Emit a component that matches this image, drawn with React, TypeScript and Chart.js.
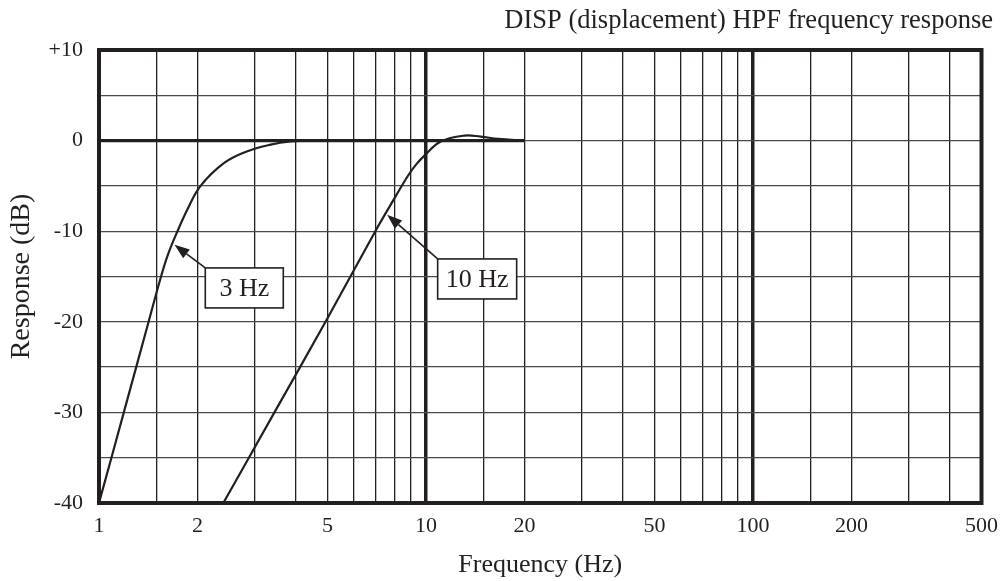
import React, { useEffect, useRef } from "react";
import { Chart, registerables } from "chart.js";

Chart.register(...registerables);

// ---- data ----
const FREQ_3HZ = [1, 1.191, 1.418, 1.548, 1.628, 1.738, 1.87, 2.045, 2.415, 2.843, 3.35, 3.85, 4.5, 8, 20];
const RESP_3HZ = [-40, -30, -20, -15, -12.5, -10, -7.5, -5, -2.47, -1.18, -0.44, -0.1, 0, 0, 0];
const FREQ_10HZ = [2.4, 3.44, 4.93, 7.0, 7.94, 8.82, 9.35, 9.93, 11.1, 13.1, 14.7, 16.6, 20];
const RESP_10HZ = [-40, -30, -20, -10, -6.6, -3.85, -2.6, -1.6, -0.1, 0.55, 0.44, 0.19, 0];
const ZERO_FREQ = [1, 20];
const ZERO_RESP = [0, 0];

const X_GRID = [1, 1.5, 2, 3, 4, 5, 6, 7, 8, 9, 10, 15, 20, 30, 40, 50, 60, 70, 80, 90, 100, 150, 200, 300, 400, 500];
const X_LABELS = [1, 2, 5, 10, 20, 50, 100, 200, 500];
const X_MAJOR = [10, 100];
const Y_LABELS = [-40, -30, -20, -10, 0, 10];

const TITLE = "DISP (displacement) HPF frequency response";
const X_TITLE = "Frequency (Hz)";
const Y_TITLE = "Response (dB)";

const CALLOUT_LABELS = ["3 Hz", "10 Hz"];
const CALLOUT_TIP_X = [1.702, 7.61];
const CALLOUT_TIP_Y = [-11.5, -8.19];
const CALLOUT_BOX_X = [2.782, 14.34];
const CALLOUT_BOX_Y = [-16.26, -15.27];

const INK = "#231f20";
const FONT = '"Liberation Serif", "Times New Roman", serif';
const CALLOUT_BOX_W = [78, 79];
const CALLOUT_BOX_H = 40;

const overlayPlugin = {
  id: "overlay",
  afterDraw(chart: any) {
    const { ctx, chartArea: a, scales } = chart;
    const xs = scales.x;
    const ys = scales.y;
    ctx.save();
    // frame
    ctx.lineWidth = 4;
    ctx.strokeStyle = INK;
    ctx.strokeRect(a.left, a.top, a.right - a.left, a.bottom - a.top);

    // title
    ctx.fillStyle = INK;
    ctx.font = `26.5px ${FONT}`;
    ctx.textAlign = "right";
    ctx.textBaseline = "alphabetic";
    ctx.fillText(TITLE, chart.width - 15, 28);

    // callouts
    ctx.font = `26px ${FONT}`;
    for (let i = 0; i < CALLOUT_LABELS.length; i++) {
      const tx = xs.getPixelForValue(CALLOUT_TIP_X[i]);
      const ty = ys.getPixelForValue(CALLOUT_TIP_Y[i]);
      const bx = xs.getPixelForValue(CALLOUT_BOX_X[i]);
      const by = ys.getPixelForValue(CALLOUT_BOX_Y[i]);
      const w = CALLOUT_BOX_W[i];
      const h = CALLOUT_BOX_H;
      const cx = bx - w / 2;
      const cy = by - h / 2;
      // arrow
      const dx = tx - cx;
      const dy = ty - cy;
      const len = Math.sqrt(dx * dx + dy * dy);
      const ux = dx / len;
      const uy = dy / len;
      const headLen = 15;
      const headHalf = 5.5;
      const baseX = tx - ux * headLen;
      const baseY = ty - uy * headLen;
      ctx.strokeStyle = INK;
      ctx.lineWidth = 1.6;
      ctx.beginPath();
      ctx.moveTo(cx, cy);
      ctx.lineTo(baseX, baseY);
      ctx.stroke();
      ctx.fillStyle = INK;
      ctx.beginPath();
      ctx.moveTo(tx, ty);
      ctx.lineTo(baseX - uy * headHalf, baseY + ux * headHalf);
      ctx.lineTo(baseX + uy * headHalf, baseY - ux * headHalf);
      ctx.closePath();
      ctx.fill();
      // box
      ctx.fillStyle = "#ffffff";
      ctx.fillRect(cx, cy, w, h);
      ctx.lineWidth = 1.6;
      ctx.strokeRect(cx, cy, w, h);
      ctx.fillStyle = INK;
      ctx.textAlign = "center";
      ctx.textBaseline = "middle";
      ctx.fillText(CALLOUT_LABELS[i], bx, by + 1);
    }
    ctx.restore();
  },
};

export default function App() {
  const ref = useRef<HTMLCanvasElement | null>(null);

  useEffect(() => {
    document.body.style.margin = "0";
    const canvas = ref.current;
    if (!canvas) return;
    Chart.defaults.font.family = FONT;
    Chart.defaults.color = INK;

    const lineStyle = {
      borderColor: INK,
      backgroundColor: INK,
      pointRadius: 0,
      fill: false,
    };

    const chart = new Chart(canvas, {
      type: "line",
      data: {
        datasets: [
          {
            label: "0 dB",
            data: ZERO_FREQ.map((f, i) => ({ x: f, y: ZERO_RESP[i] })),
            borderWidth: 3.2,
            tension: 0,
            ...lineStyle,
          },
          {
            label: "3 Hz",
            data: FREQ_3HZ.map((f, i) => ({ x: f, y: RESP_3HZ[i] })),
            borderWidth: 2.2,
            tension: 0.4,
            ...lineStyle,
          },
          {
            label: "10 Hz",
            data: FREQ_10HZ.map((f, i) => ({ x: f, y: RESP_10HZ[i] })),
            borderWidth: 2.2,
            tension: 0.4,
            ...lineStyle,
          },
        ],
      },
      options: {
        animation: false,
        responsive: false,
        maintainAspectRatio: false,
        layout: { padding: { top: 50, right: 17, bottom: 0, left: 0 } },
        plugins: {
          legend: { display: false },
          tooltip: { enabled: false },
          title: { display: false },
        },
        scales: {
          x: {
            type: "logarithmic",
            min: 1,
            max: 500,
            afterBuildTicks: (s: any) => {
              s.ticks = X_GRID.map((v) => ({ value: v }));
            },
            afterFit: (s: any) => {
              s.height = 78;
            },
            border: { display: false },
            grid: {
              drawTicks: false,
              color: INK,
              lineWidth: (c: any) => (c.tick && X_MAJOR.includes(c.tick.value) ? 3.5 : 1.3),
            },
            ticks: {
              autoSkip: false,
              maxRotation: 0,
              padding: 10,
              font: { size: 22 },
              color: INK,
              callback: (v: any) => (X_LABELS.includes(Number(v)) ? String(v) : ""),
            },
            title: {
              display: true,
              text: X_TITLE,
              font: { size: 26 },
              color: INK,
              padding: { top: 0, bottom: 0 },
            },
          },
          y: {
            type: "linear",
            min: -40,
            max: 10,
            afterFit: (s: any) => {
              s.width = 99;
            },
            border: { display: false },
            grid: {
              drawTicks: false,
              color: "#4a4a4a",
              lineWidth: 1.3,
            },
            ticks: {
              stepSize: 5,
              padding: 16,
              font: { size: 22 },
              color: INK,
              callback: (v: any) => {
                const n = Number(v);
                if (!Y_LABELS.includes(n)) return "";
                return n > 0 ? `+${n}` : String(n);
              },
            },
            title: {
              display: true,
              text: Y_TITLE,
              font: { size: 28 },
              color: INK,
              padding: { top: 5, bottom: 0 },
            },
          },
        },
      },
      plugins: [overlayPlugin],
    } as any);

    return () => chart.destroy();
  }, []);

  return (
    <div style={{ width: 1008, height: 581 }}>
      <canvas ref={ref} width={1008} height={581} style={{ display: "block", width: 1008, height: 581 }} />
    </div>
  );
}
